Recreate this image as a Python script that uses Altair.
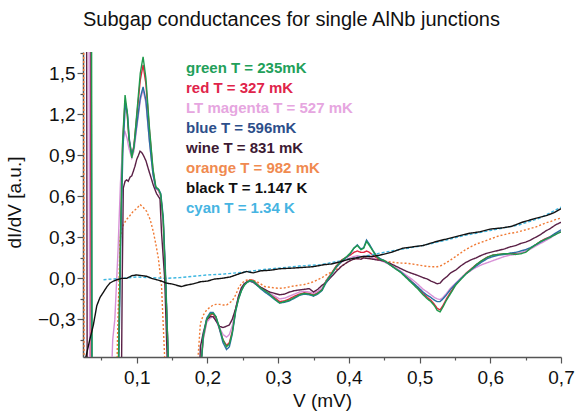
import altair as alt
import pandas as pd

# ---------------- data ----------------
series_names = [
    "green T = 235mK",
    "red T = 327 mK",
    "LT magenta T = 527 mK",
    "blue T = 596mK",
    "wine T = 831 mK",
    "orange T = 982 mK",
    "black T = 1.147 K",
    "cyan T = 1.34 K",
]
line_colors = ["#1f9a4c", "#e0243e", "#d78fd6", "#2a6fa3", "#5a2046", "#f07a34", "#111111", "#3cb6e0"]
label_colors = ["#22a05a", "#e0244a", "#e6a6e0", "#2d4f8a", "#3d1a33", "#f08a50", "#111111", "#46b4e2"]
dash_styles = [[1, 0], [1, 0], [1, 0], [1, 0], [1, 0], [2, 2], [1, 0], [3, 2]]
draw_order = [1, 2, 5, 7, 4, 3, 0, 6]

# shared voltage grid for the 0.19 - 0.70 mV part of the low-temperature curves
V_hi = [0.190, 0.194, 0.199, 0.204, 0.208, 0.212, 0.217, 0.222, 0.227, 0.231, 0.235, 0.240, 0.244, 0.248,
        0.252, 0.256, 0.260, 0.265, 0.270, 0.275, 0.281, 0.288, 0.295, 0.302, 0.309, 0.316, 0.323, 0.330,
        0.337, 0.344, 0.350, 0.356, 0.362, 0.368, 0.375, 0.382, 0.390, 0.397, 0.402, 0.407, 0.412, 0.417,
        0.421, 0.425, 0.429, 0.434, 0.439, 0.444, 0.450, 0.458, 0.466, 0.474, 0.482, 0.490, 0.498, 0.505,
        0.511, 0.516, 0.521, 0.525, 0.529, 0.533, 0.538, 0.544, 0.551, 0.558, 0.565, 0.572, 0.580, 0.588,
        0.596, 0.604, 0.612, 0.620, 0.628, 0.636, 0.643, 0.650, 0.657, 0.664, 0.671, 0.678, 0.685, 0.692, 0.700]

# green 235 mK
V_green_lo = [0.024, 0.036, 0.037, 0.073, 0.0745, 0.077, 0.080, 0.0835, 0.0865, 0.089, 0.093, 0.096, 0.100,
              0.105, 0.109, 0.113, 0.118, 0.123, 0.127, 0.131, 0.134, 0.1375, 0.141, 0.1445, 0.146]
G_green_lo = [2.2, 2.2, -1.0, -1.0, -0.5, 0.3, 1.0, 1.34, 1.22, 1.02, 0.88, 0.96, 1.2,
              1.5, 1.62, 1.46, 1.1, 0.8, 0.67, 0.65, 0.61, 0.42, -0.05, -0.57, -1.0]
G_green_hi = [-0.7, -0.43, -0.3, -0.26, -0.255, -0.28, -0.36, -0.45, -0.5, -0.48, -0.4, -0.23, -0.15, -0.09,
              -0.05, -0.03, -0.015, -0.02, -0.045, -0.07, -0.09, -0.115, -0.15, -0.18, -0.17, -0.16, -0.14, -0.12,
              -0.11, -0.115, -0.125, -0.11, -0.085, -0.02, 0.03, 0.085, 0.13, 0.16, 0.185, 0.22, 0.24, 0.21,
              0.22, 0.27, 0.24, 0.2, 0.16, 0.14, 0.13, 0.1, 0.07, 0.04, 0.0, -0.04, -0.08, -0.12,
              -0.15, -0.17, -0.2, -0.235, -0.245, -0.21, -0.16, -0.11, -0.05, -0.01, 0.03, 0.06, 0.1, 0.13,
              0.155, 0.17, 0.175, 0.18, 0.18, 0.175, 0.18, 0.19, 0.22, 0.245, 0.27, 0.285, 0.3, 0.32, 0.34]

# red 327 mK
V_red_lo = [0.024, 0.0345, 0.0355, 0.073, 0.0745, 0.077, 0.080, 0.0835, 0.0865, 0.089, 0.093, 0.096, 0.100,
            0.105, 0.109, 0.113, 0.118, 0.123, 0.127, 0.131, 0.134, 0.1375, 0.141, 0.1445, 0.146]
G_red_lo = [2.2, 2.2, -1.0, -1.0, -0.5, 0.3, 0.98, 1.3, 1.2, 1.02, 0.9, 0.97, 1.18,
            1.45, 1.56, 1.42, 1.08, 0.79, 0.66, 0.64, 0.6, 0.41, -0.05, -0.57, -1.0]
G_red_hi = [-0.7, -0.44, -0.31, -0.27, -0.26, -0.29, -0.37, -0.45, -0.49, -0.47, -0.39, -0.22, -0.14, -0.08,
            -0.045, -0.025, -0.01, -0.015, -0.04, -0.065, -0.085, -0.11, -0.14, -0.17, -0.165, -0.15, -0.13, -0.115,
            -0.105, -0.11, -0.12, -0.105, -0.08, -0.015, 0.035, 0.09, 0.135, 0.155, 0.17, 0.19, 0.2, 0.19,
            0.19, 0.2, 0.19, 0.17, 0.15, 0.135, 0.125, 0.1, 0.075, 0.045, 0.01, -0.03, -0.07, -0.11,
            -0.14, -0.16, -0.19, -0.22, -0.23, -0.2, -0.15, -0.1, -0.045, -0.005, 0.035, 0.065, 0.1, 0.13,
            0.155, 0.17, 0.175, 0.18, 0.18, 0.18, 0.185, 0.195, 0.22, 0.245, 0.27, 0.29, 0.305, 0.325, 0.345]

# LT magenta 527 mK
V_magenta_lo = [0.024, 0.0325, 0.0335, 0.0625, 0.066, 0.069, 0.0735, 0.077, 0.0805, 0.083, 0.0865, 0.089,
                0.093, 0.096, 0.100, 0.105, 0.109, 0.113, 0.118, 0.123, 0.127, 0.131, 0.134, 0.1375, 0.141,
                0.1445, 0.146]
G_magenta_lo = [2.2, 2.2, -1.0, -1.0, -0.45, -0.3, 0.2, 0.7, 1.0, 1.08, 1.02, 0.95,
                0.88, 0.93, 1.1, 1.3, 1.38, 1.28, 1.0, 0.76, 0.66, 0.64, 0.6, 0.4, -0.05,
                -0.57, -1.0]
G_magenta_hi = [-0.7, -0.45, -0.32, -0.29, -0.28, -0.31, -0.36, -0.41, -0.43, -0.41, -0.35, -0.22, -0.13, -0.07,
                -0.04, -0.025, -0.015, -0.02, -0.045, -0.07, -0.09, -0.11, -0.13, -0.15, -0.145, -0.13, -0.115, -0.1,
                -0.095, -0.1, -0.11, -0.095, -0.07, -0.02, 0.03, 0.08, 0.12, 0.14, 0.15, 0.16, 0.165, 0.16,
                0.16, 0.165, 0.16, 0.15, 0.14, 0.13, 0.12, 0.1, 0.075, 0.05, 0.02, -0.01, -0.045, -0.08,
                -0.1, -0.12, -0.14, -0.15, -0.155, -0.14, -0.11, -0.07, -0.035, 0.0, 0.03, 0.055, 0.08, 0.1,
                0.115, 0.13, 0.145, 0.16, 0.17, 0.175, 0.185, 0.2, 0.215, 0.235, 0.255, 0.275, 0.295, 0.32, 0.345]

# blue 596 mK
V_blue_lo = [0.024, 0.0355, 0.0365, 0.0735, 0.075, 0.0775, 0.0805, 0.084, 0.087, 0.0895, 0.093, 0.096, 0.100,
             0.105, 0.109, 0.113, 0.118, 0.123, 0.127, 0.131, 0.134, 0.1375, 0.141, 0.1445, 0.146]
G_blue_lo = [2.2, 2.2, -1.0, -1.0, -0.5, 0.3, 0.95, 1.28, 1.2, 1.02, 0.9, 0.96, 1.12,
             1.32, 1.40, 1.3, 1.0, 0.76, 0.66, 0.65, 0.62, 0.45, 0.0, -0.57, -1.0]
G_blue_hi = [-0.7, -0.42, -0.29, -0.25, -0.25, -0.28, -0.37, -0.47, -0.52, -0.5, -0.41, -0.24, -0.15, -0.09,
             -0.05, -0.03, -0.02, -0.025, -0.05, -0.075, -0.1, -0.125, -0.155, -0.18, -0.175, -0.165, -0.145, -0.125,
             -0.115, -0.12, -0.13, -0.115, -0.09, -0.03, 0.025, 0.08, 0.125, 0.155, 0.18, 0.22, 0.245, 0.215,
             0.225, 0.28, 0.25, 0.205, 0.165, 0.145, 0.13, 0.1, 0.07, 0.045, 0.005, -0.03, -0.065, -0.1,
             -0.125, -0.14, -0.16, -0.17, -0.17, -0.15, -0.12, -0.08, -0.04, -0.005, 0.03, 0.06, 0.09, 0.12,
             0.145, 0.16, 0.17, 0.175, 0.185, 0.19, 0.2, 0.21, 0.225, 0.245, 0.265, 0.285, 0.305, 0.33, 0.355]

# wine 831 mK
V_wine_lo = [0.024, 0.029, 0.030, 0.078, 0.0795, 0.081, 0.0835, 0.0858, 0.088, 0.0905, 0.093, 0.095, 0.0975,
             0.100, 0.1025, 0.1047, 0.107, 0.1094, 0.113, 0.1164, 0.120, 0.1235, 0.128, 0.1305, 0.1329, 0.135,
             0.1375, 0.1395, 0.143, 0.145, 0.187]
G_wine_lo = [2.2, 2.2, -1.0, -1.0, 0.0, 0.66, 0.71, 0.72, 0.71, 0.74, 0.75, 0.78, 0.82,
             0.87, 0.9, 0.93, 0.92, 0.9, 0.86, 0.8, 0.74, 0.68, 0.62, 0.6, 0.58, 0.34,
             0.15, 0.0, -0.58, -1.0, -1.0]
G_wine_hi = [-0.5, -0.4, -0.3, -0.28, -0.28, -0.31, -0.35, -0.36, -0.35, -0.34, -0.3, -0.22, -0.13, -0.07,
             -0.04, -0.025, -0.02, -0.03, -0.05, -0.065, -0.08, -0.1, -0.11, -0.12, -0.115, -0.1, -0.09, -0.085,
             -0.08, -0.075, -0.1, -0.08, -0.05, -0.03, 0.01, 0.05, 0.09, 0.115, 0.13, 0.14, 0.145, 0.14,
             0.15, 0.146, 0.145, 0.14, 0.135, 0.134, 0.125, 0.11, 0.09, 0.07, 0.05, 0.035, 0.02, 0.005,
             -0.005, -0.02, -0.03, -0.04, -0.035, -0.01, 0.01, 0.04, 0.06, 0.09, 0.115, 0.134, 0.15, 0.17,
             0.185, 0.195, 0.205, 0.215, 0.23, 0.24, 0.255, 0.265, 0.28, 0.3, 0.32, 0.345, 0.365, 0.39, 0.41]

# orange 982 mK
V_orange_lo = [0.024, 0.0248, 0.0255, 0.0715, 0.0725, 0.0765, 0.081, 0.0855, 0.0905, 0.095, 0.100, 0.1047,
               0.109, 0.114, 0.119, 0.1235, 0.127, 0.1305, 0.135, 0.1395, 0.141, 0.181]
G_orange_lo = [2.2, 2.2, -1.0, -1.0, -0.5, 0.29, 0.39, 0.43, 0.46, 0.49, 0.51, 0.54,
               0.52, 0.49, 0.43, 0.34, 0.25, 0.15, -0.05, -0.58, -1.0, -1.0]
G_orange_hi = [-0.33, -0.27, -0.23, -0.21, -0.195, -0.19, -0.19, -0.195, -0.195, -0.18, -0.165, -0.12, -0.07, -0.04,
               -0.02, -0.012, -0.01, -0.015, -0.025, -0.04, -0.06, -0.065, -0.07, -0.073, -0.07, -0.062, -0.055, -0.05,
               -0.045, -0.035, -0.025, -0.01, 0.005, 0.025, 0.045, 0.065, 0.09, 0.115, 0.13, 0.14, 0.145, 0.145,
               0.15, 0.146, 0.145, 0.14, 0.137, 0.134, 0.128, 0.12, 0.115, 0.112, 0.11, 0.105, 0.098, 0.092,
               0.088, 0.085, 0.085, 0.085, 0.09, 0.1, 0.115, 0.135, 0.16, 0.185, 0.21, 0.23, 0.25, 0.265,
               0.28, 0.295, 0.31, 0.32, 0.33, 0.335, 0.345, 0.355, 0.365, 0.375, 0.39, 0.405, 0.415, 0.43, 0.44]

# black 1.147 K
V_black = [0.027, 0.0335, 0.0387, 0.0435, 0.048, 0.053, 0.058, 0.062, 0.067, 0.072, 0.079, 0.086, 0.093,
           0.100, 0.107, 0.114, 0.121, 0.128, 0.135, 0.142, 0.149, 0.156, 0.163, 0.170, 0.180, 0.190, 0.200,
           0.210, 0.220, 0.232, 0.243, 0.255, 0.265, 0.275, 0.290, 0.302, 0.320, 0.335, 0.349, 0.365, 0.375,
           0.387, 0.400, 0.410, 0.420, 0.433, 0.444, 0.460, 0.476, 0.490, 0.505, 0.524, 0.540, 0.555, 0.571,
           0.585, 0.600, 0.618, 0.630, 0.645, 0.665, 0.680, 0.690, 0.700]
G_black = [-0.6, -0.45, -0.34, -0.2, -0.14, -0.1, -0.06, -0.035, -0.02, -0.01, 0.0, 0.0, 0.02,
           0.025, 0.02, 0.015, 0.0, -0.01, -0.02, -0.035, -0.04, -0.05, -0.06, -0.05, -0.04, -0.025, -0.02,
           -0.005, 0.0, 0.01, 0.03, 0.05, 0.04, 0.055, 0.06, 0.07, 0.075, 0.08, 0.085, 0.1, 0.105,
           0.12, 0.14, 0.15, 0.16, 0.16, 0.17, 0.19, 0.22, 0.23, 0.24, 0.27, 0.29, 0.31, 0.33,
           0.34, 0.36, 0.37, 0.38, 0.41, 0.44, 0.46, 0.48, 0.51]

# cyan 1.34 K
V_cyan = [0.053, 0.065, 0.080, 0.100, 0.120, 0.140, 0.160, 0.180, 0.200, 0.220, 0.250, 0.280, 0.300,
          0.330, 0.360, 0.400, 0.430, 0.460, 0.500, 0.530, 0.560, 0.600, 0.640, 0.670, 0.700]
G_cyan = [-0.01, -0.005, 0.0, 0.01, 0.005, 0.0, 0.005, 0.015, 0.025, 0.03, 0.045, 0.065, 0.075,
          0.09, 0.1, 0.14, 0.17, 0.2, 0.235, 0.27, 0.31, 0.35, 0.39, 0.44, 0.52]

x_ticks = [0.05, 0.1, 0.15, 0.2, 0.25, 0.3, 0.35, 0.4, 0.45, 0.5, 0.55, 0.6, 0.65, 0.7]
y_ticks = [-0.45, -0.3, -0.15, 0.0, 0.15, 0.3, 0.45, 0.6, 0.75, 0.9, 1.05, 1.2, 1.35, 1.5, 1.65]

# ---------------- table ----------------
curves = [
    (V_green_lo + V_hi, G_green_lo + G_green_hi),
    (V_red_lo + V_hi, G_red_lo + G_red_hi),
    (V_magenta_lo + V_hi, G_magenta_lo + G_magenta_hi),
    (V_blue_lo + V_hi, G_blue_lo + G_blue_hi),
    (V_wine_lo + V_hi, G_wine_lo + G_wine_hi),
    (V_orange_lo + V_hi, G_orange_lo + G_orange_hi),
    (V_black, G_black),
    (V_cyan, G_cyan),
]
rows = []
for k in draw_order:
    vs, gs = curves[k]
    for i, (v, g) in enumerate(zip(vs, gs)):
        rows.append({"series": series_names[k], "V": v, "G": g, "idx": i})
df = pd.DataFrame(rows)

label_color_expr = " : ".join(
    f"datum.value === '{n}' ? '{c}'" for n, c in zip(series_names, label_colors)
) + " : '#000000'"

FONT = "Liberation Sans"
x_major = "abs(datum.value*10 - round(datum.value*10)) < 0.01"
y_major = "abs(datum.value/0.3 - round(datum.value/0.3)) < 0.01"

x_axis = alt.Axis(
    values=x_ticks,
    labelExpr=f"{x_major} ? replace(format(datum.value, '.1f'), '.', ',') : ''",
    tickSize={"condition": {"test": x_major, "value": 6}, "value": 3},
    title="V (mV)", titleFont=FONT, titleFontSize=19, titleFontWeight="normal", titleColor="#111111",
    titleY=49, titleBaseline="alphabetic",
    labelFont=FONT, labelFontSize=19, labelColor="#111111", labelPadding=5,
    labelOverlap=False, labelFlush=False,
    domainColor="#555555", domainWidth=1.5, tickColor="#555555", tickWidth=1.2, grid=False,
)
y_axis = alt.Axis(
    values=y_ticks,
    labelExpr=f"{y_major} ? replace(format(datum.value, '.1f'), '.', ',') : ''",
    tickSize={"condition": {"test": y_major, "value": 6}, "value": 3},
    title="dI/dV [a.u.]", titleFont=FONT, titleFontSize=19, titleFontWeight="normal", titleColor="#111111",
    titleX=-69, titleY=150, titleBaseline="middle",
    labelFont=FONT, labelFontSize=19, labelColor="#111111", labelPadding=2,
    labelOverlap=False, labelFlush=False,
    domainColor="#555555", domainWidth=1.5, tickColor="#555555", tickWidth=1.2, grid=False,
)

chart = alt.Chart(df).mark_line(strokeWidth=1.4, clip=True).encode(
    x=alt.X("V:Q", scale=alt.Scale(domain=[0.024, 0.7], nice=False, zero=False), axis=x_axis),
    y=alt.Y("G:Q", scale=alt.Scale(domain=[-0.575, 1.655], nice=False, zero=False), axis=y_axis),
    color=alt.Color(
        "series:N",
        scale=alt.Scale(domain=series_names, range=line_colors),
        legend=alt.Legend(
            title=None, orient="none", legendX=88, legendY=8,
            symbolType="circle", symbolSize=0, symbolOpacity=0, symbolStrokeWidth=0,
            labelOffset=0, labelFont=FONT, labelFontSize=15, labelFontWeight="bold",
            labelLimit=400, rowPadding=4, padding=0,
            labelColor=alt.ExprRef(expr=label_color_expr),
        ),
    ),
    strokeDash=alt.StrokeDash("series:N", scale=alt.Scale(domain=series_names, range=dash_styles), legend=None),
    order=alt.Order("idx:Q"),
).properties(
    width=478,
    height=305,
    autosize=alt.AutoSizeParams(type="none"),
    padding={"left": 83, "top": 52, "right": 17, "bottom": 58},
    background="white",
    title=alt.TitleParams(
        text="Subgap conductances for single AlNb junctions",
        anchor="start", frame="group", font=FONT, fontSize=20, fontWeight="normal", color="#111111", offset=14,
    ),
).configure_view(stroke=None)

chart.save("out.html", embed_options={"renderer": "svg", "actions": False})
